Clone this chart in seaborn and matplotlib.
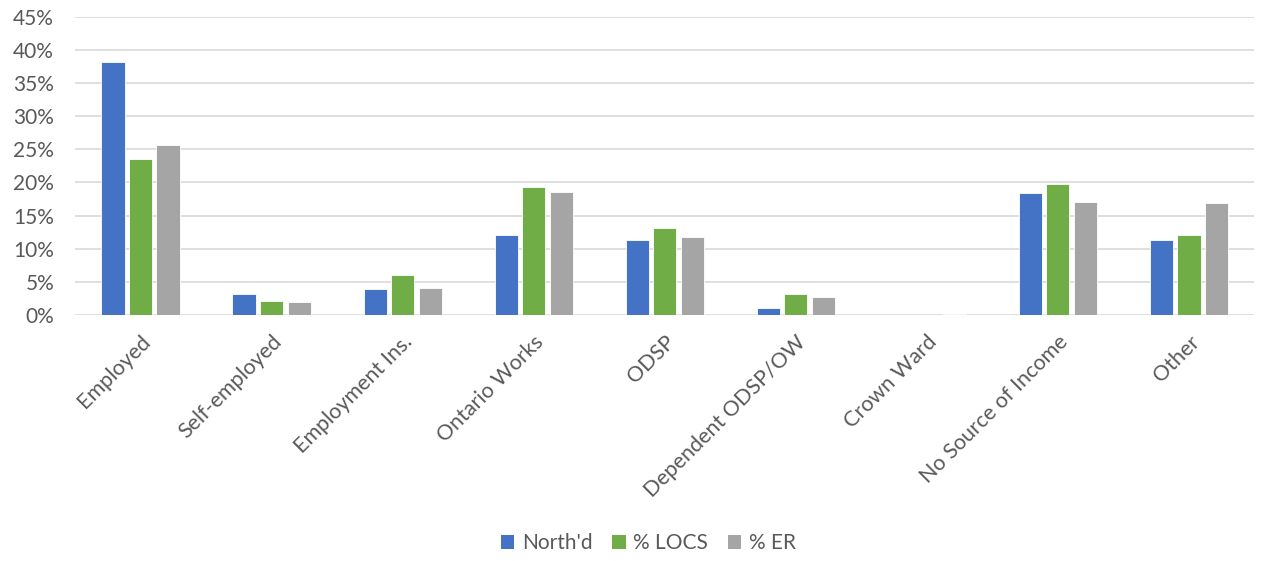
import matplotlib
matplotlib.use("Agg")
import matplotlib.pyplot as plt
import seaborn as sns
import pandas as pd
from matplotlib.ticker import FuncFormatter, MultipleLocator
from matplotlib.patches import Patch

categories = ["Employed", "Self-employed", "Employment Ins.", "Ontario Works", "ODSP",
              "Dependent ODSP/OW", "Crown Ward", "No Source of Income", "Other"]
series_names = ["North'd", "% LOCS", "% ER"]
north = [38.2, 3.1, 3.9, 12.1, 11.3, 1.0, 0.0, 18.4, 11.3]
locs = [23.5, 2.1, 6.1, 19.3, 13.1, 3.1, 0.0, 19.7, 12.1]
er = [25.6, 2.0, 4.0, 18.6, 11.7, 2.7, 0.2, 17.0, 16.9]
colors = ["#4472C4", "#70AD47", "#A5A5A5"]

rows = []
for name, vals in zip(series_names, [north, locs, er]):
    for c, v in zip(categories, vals):
        rows.append({"Category": c, "Series": name, "Value": v})
df = pd.DataFrame(rows)

sns.set_theme(style="white")
plt.rcParams["font.family"] = ["Lato", "DejaVu Sans"]
text_color = "#595959"

fig = plt.figure(figsize=(12.71, 5.61), dpi=100)
ax = fig.add_axes([0.059, 0.4385, 0.928, 0.5315])

sns.barplot(data=df, x="Category", y="Value", hue="Series", order=categories,
            hue_order=series_names, palette=colors, width=0.63, gap=0.16,
            ax=ax, legend=False, edgecolor="white", linewidth=0.6, saturation=1)

ax.set_ylim(0, 45)
ax.set_xlim(-0.5, len(categories) - 0.5)
ax.yaxis.set_major_locator(MultipleLocator(5))
ax.yaxis.set_major_formatter(FuncFormatter(lambda v, p: f"{int(round(v))}%"))
ax.grid(axis="y", color="#D9D9D9", linewidth=1.2)
ax.set_axisbelow(True)
for s in ax.spines.values():
    s.set_visible(False)
ax.set_xlabel("")
ax.set_ylabel("")
ax.tick_params(axis="both", length=0, colors=text_color)
ax.tick_params(axis="y", pad=15, labelsize=15)
ax.tick_params(axis="x", pad=12, labelsize=15.5)
for lbl in ax.get_xticklabels():
    lbl.set_rotation(45)
    lbl.set_ha("right")
    lbl.set_rotation_mode("anchor")

handles = [Patch(facecolor=c, edgecolor="none") for c in colors]
fig.legend(handles, series_names, loc="center", bbox_to_anchor=(0.51, 0.032), ncol=3,
           frameon=False, fontsize=15, labelcolor=text_color, handlelength=0.65,
           handleheight=0.65, handletextpad=0.35, columnspacing=0.95)

fig.savefig("out.png", dpi=100)
